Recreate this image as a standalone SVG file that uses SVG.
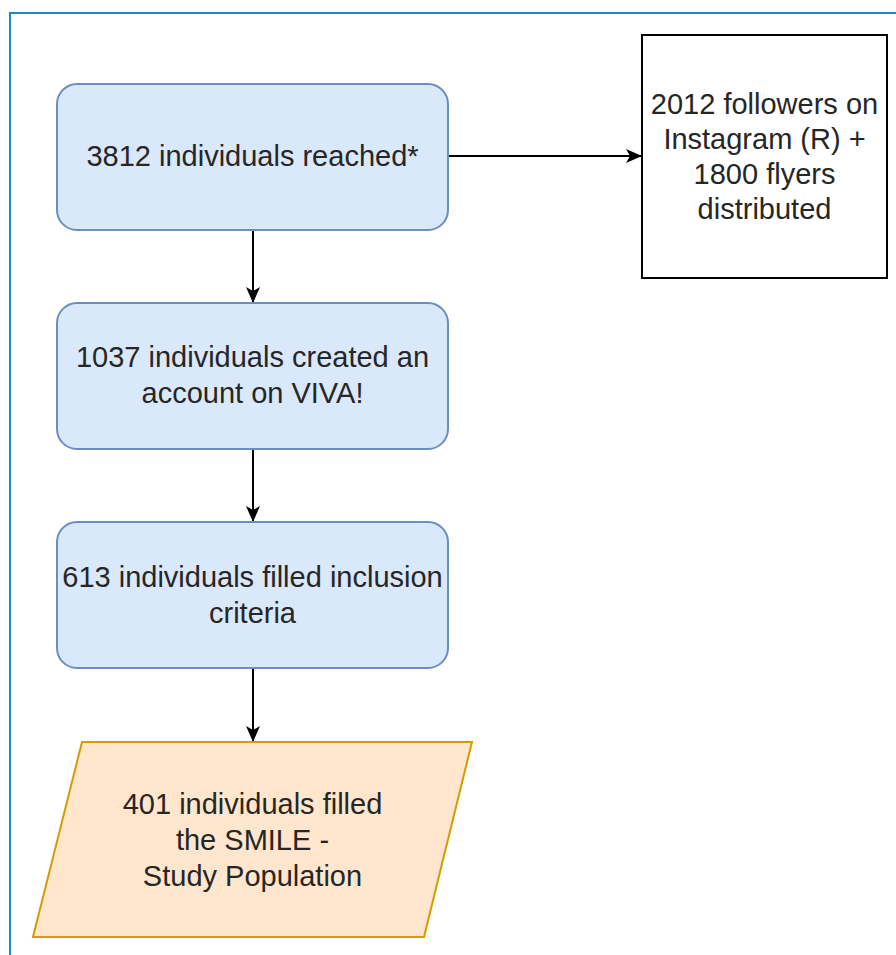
<svg xmlns="http://www.w3.org/2000/svg" width="896" height="955" viewBox="0 0 896 955">
<defs>
<style>
.blue{fill:#dae8fc;stroke:#6c8ebf;stroke-width:2}
.orange{fill:#ffe6cc;stroke:#d79b00;stroke-width:2}
.plain{fill:#ffffff;stroke:#000000;stroke-width:2}
.t{font-family:"Liberation Sans",Arial,sans-serif;font-size:29px;fill:#262626;text-anchor:middle}
.c{stroke:#000000;stroke-width:2;fill:none}
</style>
<marker id="arr" markerWidth="16" markerHeight="16" refX="15" refY="8" orient="auto" markerUnits="userSpaceOnUse" viewBox="0 0 16 16">
<path d="M0,1 L16,8 L0,15 L4,8 Z" fill="#000"/>
</marker>
</defs>
<rect width="896" height="955" fill="#ffffff"/>
<path d="M10,955 L10,13 L896,13" fill="none" stroke="#1a8ac6" stroke-width="2"/>
<g id="connectors">
<line class="c" x1="448" y1="156" x2="641" y2="156" marker-end="url(#arr)"/>
<line class="c" x1="253" y1="230" x2="253" y2="302" marker-end="url(#arr)"/>
<line class="c" x1="253" y1="449" x2="253" y2="521" marker-end="url(#arr)"/>
<line class="c" x1="253" y1="668" x2="253" y2="741" marker-end="url(#arr)"/>
</g>
<g id="n1">
<rect class="blue" x="57" y="84" width="391" height="146" rx="20"/>
<text class="t" x="252.5" y="166">3812 individuals reached*</text>
</g>
<g id="n2">
<rect class="plain" x="642" y="35" width="245" height="243"/>
<text class="t" x="764.5" y="114">2012 followers on</text>
<text class="t" x="764.5" y="149">Instagram (R) +</text>
<text class="t" x="764.5" y="184">1800 flyers</text>
<text class="t" x="764.5" y="219">distributed</text>
</g>
<g id="n3">
<rect class="blue" x="57" y="303" width="391" height="146" rx="20"/>
<text class="t" x="252.5" y="367">1037 individuals created an</text>
<text class="t" x="252.5" y="403">account on VIVA!</text>
</g>
<g id="n4">
<rect class="blue" x="57" y="522" width="391" height="146" rx="20"/>
<text class="t" x="252.5" y="587">613 individuals filled inclusion</text>
<text class="t" x="252.5" y="623">criteria</text>
</g>
<g id="n5">
<polygon class="orange" points="82,742 472,742 424,937 33,937"/>
<text class="t" x="252.5" y="814">401 individuals filled</text>
<text class="t" x="252.5" y="850">the SMILE -</text>
<text class="t" x="252.5" y="886">Study Population</text>
</g>
</svg>
